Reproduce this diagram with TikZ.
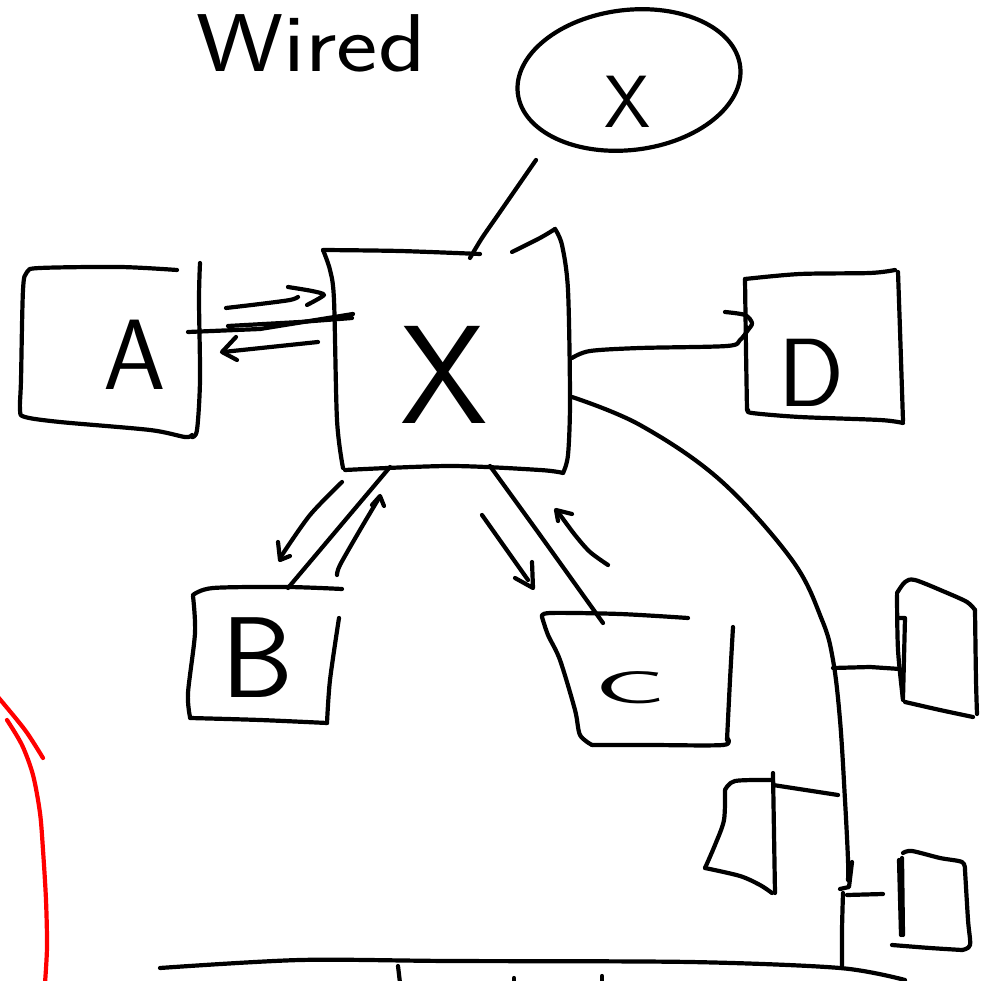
\documentclass[tikz,border=0pt]{standalone}
\begin{document}
\begin{tikzpicture}[x=1pt,y=-1pt,
  pen/.style={line width=4.2pt,line cap=round,line join=round},
  redpen/.style={pen,red},
  lbl/.style={inner sep=0pt,anchor=base,font=\sffamily}]
\useasboundingbox (0,0) rectangle (983,981);
% title
\node[lbl,font=\sffamily\fontsize{82}{82}\selectfont,xscale=1.2] (wired) at (311,72) {Wired};
% ellipse X
\draw[pen,rotate around={7:(629,80)}] (629,80) ellipse [x radius=112, y radius=70];
\node[lbl,font=\sffamily\fontsize{74}{74}\selectfont] (ex) at (628,128) {X};
\coordinate (eb) at (536,160);
% box X
\draw[pen] plot[smooth,tension=0.5] coordinates {(480,254) (400,251) (323,250)};
\draw[pen] plot[smooth,tension=0.5] coordinates {(323,250) (330,270) (334,300) (337,420) (343,468)};
\draw[pen] plot[smooth,tension=0.5] coordinates {(345,470) (450,466) (540,470) (563,473)};
\draw[pen] plot[smooth,tension=0.5] coordinates {(563,473) (568,455) (570,400) (568,290) (562,245) (555,229)};
\draw[pen] plot[smooth,tension=0.5] coordinates {(555,229) (540,238) (512,252)};
\node[lbl,font=\sffamily\fontsize{140}{140}\selectfont] (xx) at (444,424) {X};
\coordinate (xt) at (470,258);
\draw[pen] plot[smooth] coordinates {(xt) (482,238) (500,212) (eb)};
% box A
\draw[pen] plot[smooth,tension=0.5] coordinates {(177,270) (120,267) (40,268) (27,272) (23,290) (21,380) (20,410) (25,417) (60,422) (150,430) (185,437) (192,435)};
\draw[pen] plot[smooth,tension=0.5] coordinates {(200,263) (199,300) (200,380) (197,430) (192,437)};
\node[lbl,font=\sffamily\fontsize{100}{100}\selectfont] (a) at (135,390) {A};
% A - X links
\draw[pen] (188,332) -- (260,329) -- (353,314);
\draw[pen] (228,326) -- (300,322) -- (352,318);
\draw[pen] plot[smooth] coordinates {(226,308) (260,304) (290,300) (298,297)};
\draw[pen] plot[smooth,tension=0.4] coordinates {(288,287) (312,291) (324,295) (307,305)};
\draw[pen] (318,342) -- (223,352);
\draw[pen] (236,337) -- (222,352) -- (237,360);
% box D
\draw[pen] plot[smooth,tension=0.5] coordinates {(745,279) (800,274) (870,273) (895,270)};
\draw[pen] plot[smooth,tension=0.5] coordinates {(898,272) (900,330) (903,421)};
\draw[pen] plot[smooth,tension=0.5] coordinates {(903,423) (880,420) (800,417) (752,413) (748,410)};
\draw[pen] plot[smooth,tension=0.5] coordinates {(747,410) (746,350) (745,279)};
\node[lbl,font=\sffamily\fontsize{97}{97}\selectfont] (d) at (811,407) {D};
\draw[pen] plot[smooth,tension=0.5] coordinates {(572,358) (590,351) (640,348) (727,346) (740,340) (748,330) (752,323) (745,315) (725,312)};
% big curve
\draw[pen] plot[smooth,tension=0.6] coordinates {(572,397) (640,425) (720,480) (792,560) (822,620) (833,660) (840,720) (845,800) (848,860) (848,880)};
\draw[pen] (852,862) -- (849,887) -- (840,889);
\draw[pen] plot[smooth] coordinates {(843,893) (842,930) (842,968)};
% box 1
\draw[pen] (833,668) -- (870,667) -- (900,669);
\draw[pen] plot[smooth,tension=0.5] coordinates {(897,593) (905,582) (915,580) (945,592) (967,602) (975,610)};
\draw[pen] plot[smooth,tension=0.5] coordinates {(975,610) (976,680) (977,714)};
\draw[pen] plot[smooth,tension=0.5] coordinates {(973,717) (940,710) (905,702)};
\draw[pen] plot[smooth,tension=0.5] coordinates {(897,595) (898,650) (903,700)};
\draw[pen] (898,618) -- (905,618) -- (903,698);
% box 2
\draw[pen] plot[smooth,tension=0.5] coordinates {(725,790) (735,781) (773,780)};
\draw[pen] (773,785) -- (838,795);
\draw[pen] (773,773) -- (775,893);
\draw[pen] plot[smooth,tension=0.5] coordinates {(725,790) (724,820) (715,845) (705,868)};
\draw[pen] plot[smooth,tension=0.5] coordinates {(705,868) (740,876) (760,885) (772,893)};
% box 3
\draw[pen] (899,860) -- (901,935);
\draw[pen] (902,858) -- (903,935);
\draw[pen] plot[smooth,tension=0.5] coordinates {(903,853) (912,851) (940,858) (962,862) (965,870)};
\draw[pen] plot[smooth,tension=0.5] coordinates {(965,870) (968,920) (970,945) (962,950)};
\draw[pen] plot[smooth,tension=0.5] coordinates {(962,950) (930,948) (892,945)};
\draw[pen] (847,895) -- (883,894);
% bottom line
\draw[pen] plot[smooth,tension=0.5] coordinates {(160,968) (300,960) (450,961) (690,962) (840,968) (905,980)};
\draw[pen] (398,966) -- (400,983);
\draw[pen] (514,978) -- (514,983);
\draw[pen] (602,976) -- (602,983);
% box B
\draw[pen] plot[smooth,tension=0.5] coordinates {(193,595) (213,588) (287,587) (342,589)};
\draw[pen] plot[smooth,tension=0.5] coordinates {(193,596) (195,633) (188,693) (190,717)};
\draw[pen] plot[smooth,tension=0.5] coordinates {(190,718) (260,720) (327,723)};
\draw[pen] plot[smooth,tension=0.5] coordinates {(327,723) (330,680) (339,618)};
\node[lbl,font=\sffamily\fontsize{115}{115}\selectfont] (b) at (257,697) {B};
\draw[pen] (288,588) -- (390,467);
\draw[pen] plot[smooth] coordinates {(342,482) (310,515) (282,555)};
\draw[pen] (278,542) -- (280,560) -- (290,556);
\draw[pen] plot[smooth] coordinates {(337,575) (340,565) (360,530) (379,498)};
\draw[pen] (372,505) -- (380,496) -- (384,506);
% box C
\draw[pen] plot[smooth,tension=0.5] coordinates {(542,617) (550,613) (620,614) (688,618)};
\draw[pen] plot[smooth,tension=0.5] coordinates {(542,617) (548,635) (560,660) (575,710) (580,735) (592,745)};
\draw[pen] plot[smooth,tension=0.5] coordinates {(592,745) (650,745) (723,745) (727,738)};
\draw[pen] plot[smooth,tension=0.5] coordinates {(727,740) (730,680) (733,627)};
\node[lbl,font=\sffamily\fontsize{46}{46}\selectfont,xscale=2.6] (c) at (630,703) {C};
\draw[pen] plot[smooth] coordinates {(490,466) (540,535) (603,623)};
\draw[pen] (482,515) -- (528,580);
\draw[pen] (515,578) -- (533,588) -- (532,562);
\draw[pen] plot[smooth] coordinates {(608,565) (590,552) (575,535) (558,512)};
\draw[pen] (572,514) -- (556,510) -- (558,521);
% red strokes
\draw[redpen] plot[smooth] coordinates {(-2,697) (25,730) (43,758)};
\draw[redpen] plot[smooth] coordinates {(7,720) (22,745) (33,775) (40,813) (43,850) (46,900) (47,947) (45,983)};
\end{tikzpicture}
\end{document}
